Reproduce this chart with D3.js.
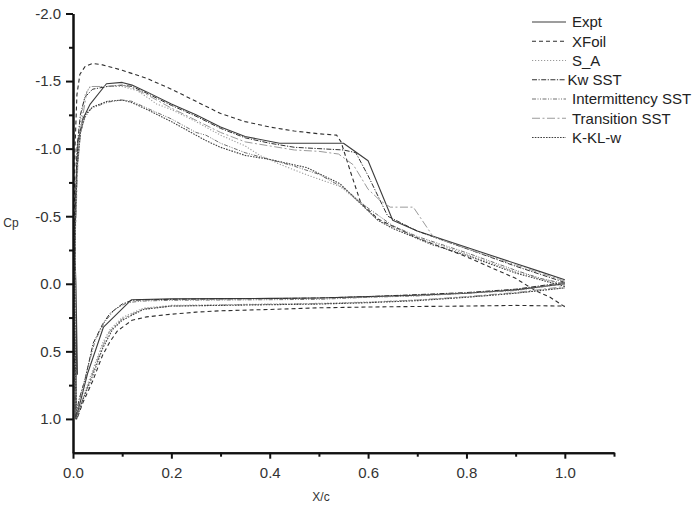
<!DOCTYPE html>
<html>
<head>
<meta charset="utf-8">
<script src="https://cdn.jsdelivr.net/npm/d3@7"></script>
<style>
  body { margin: 0; background: #fff; }
  svg { display: block; font-family: "Liberation Sans", Arial, sans-serif; }
</style>
</head>
<body>
<svg id="chart_svg" width="700" height="509"></svg>
<script>
// x/c and Cp pairs, upper surface from trailing edge to leading edge, then lower surface back to TE
var expt = [[1.0,-0.03],[0.95,-0.09],[0.9,-0.15],[0.8,-0.27],[0.7,-0.39],[0.65,-0.47],[0.6,-0.91],[0.55,-1.04],[0.5,-1.04],
  [0.42,-1.04],[0.35,-1.09],[0.3,-1.16],[0.25,-1.25],[0.2,-1.33],[0.15,-1.42],[0.12,-1.47],[0.1,-1.49],[0.068,-1.48],
  [0.035,-1.33],[0.02,-1.22],[0.01,-1.05],[0.006,-0.7],[0.004,-0.2],[0.006,0.0],[0.009,0.67],[0.007,0.25],[0.006,1.0],
  [0.03,0.66],[0.062,0.32],[0.119,0.118],[0.2,0.112],[0.3,0.11],[0.4,0.108],[0.5,0.105],[0.6,0.095],[0.7,0.085],
  [0.8,0.07],[0.9,0.045],[1.0,0.0]];

var xfoil = [[1.0,0.17],[0.97,0.1],[0.94,0.05],[0.9,-0.04],[0.85,-0.12],[0.8,-0.2],[0.7,-0.34],[0.62,-0.48],[0.585,-0.6],
  [0.565,-0.82],[0.545,-1.05],[0.536,-1.1],[0.5,-1.11],[0.45,-1.13],[0.4,-1.16],[0.35,-1.2],[0.3,-1.26],[0.25,-1.35],
  [0.2,-1.44],[0.15,-1.52],[0.1,-1.58],[0.06,-1.62],[0.04,-1.63],[0.025,-1.61],[0.014,-1.55],[0.008,-1.4],[0.004,-1.0],
  [0.002,-0.3],[0.003,0.5],[0.008,1.0],[0.02,0.88],[0.04,0.72],[0.06,0.53],[0.075,0.43],[0.09,0.35],[0.12,0.27],
  [0.15,0.245],[0.2,0.225],[0.25,0.21],[0.3,0.2],[0.4,0.19],[0.5,0.178],[0.6,0.172],[0.7,0.168],[0.8,0.165],
  [0.9,0.16],[1.0,0.165]];

var sa = [[1.0,0.01],[0.95,-0.04],[0.9,-0.09],[0.8,-0.22],[0.7,-0.34],[0.62,-0.47],[0.584,-0.6],[0.543,-0.72],[0.48,-0.8],
  [0.43,-0.87],[0.38,-0.95],[0.35,-1.02],[0.3,-1.1],[0.25,-1.2],[0.2,-1.29],[0.17,-1.33],[0.155,-1.37],[0.13,-1.43],
  [0.1,-1.46],[0.07,-1.46],[0.035,-1.46],[0.025,-1.4],[0.015,-1.2],[0.008,-0.9],[0.004,-0.3],[0.004,0.4],[0.008,1.0],
  [0.02,0.84],[0.04,0.64],[0.06,0.44],[0.075,0.34],[0.1,0.25],[0.143,0.18],[0.2,0.16],[0.3,0.155],[0.4,0.15],
  [0.5,0.145],[0.6,0.135],[0.7,0.12],[0.8,0.1],[0.9,0.07],[1.0,0.03]];

var kwSst = [[1.0,-0.01],[0.95,-0.07],[0.9,-0.13],[0.8,-0.26],[0.7,-0.39],[0.64,-0.5],[0.6,-0.8],[0.575,-0.97],[0.55,-0.99],
  [0.5,-1.0],[0.45,-1.01],[0.4,-1.04],[0.35,-1.08],[0.3,-1.15],[0.25,-1.24],[0.2,-1.32],[0.15,-1.41],[0.12,-1.46],
  [0.1,-1.47],[0.07,-1.46],[0.04,-1.44],[0.024,-1.38],[0.015,-1.25],[0.008,-1.0],[0.004,-0.4],[0.003,0.3],[0.005,1.0],
  [0.012,0.86],[0.025,0.7],[0.041,0.44],[0.06,0.3],[0.075,0.22],[0.1,0.15],[0.12,0.122],[0.2,0.115],[0.3,0.112],
  [0.4,0.11],[0.5,0.105],[0.6,0.095],[0.7,0.08],[0.8,0.065],[0.9,0.04],[1.0,-0.01]];

var intermittencySst = [[1.0,0.0],[0.95,-0.04],[0.9,-0.1],[0.8,-0.23],[0.7,-0.35],[0.65,-0.43],[0.6,-0.56],[0.55,-0.71],
  [0.5,-0.81],[0.45,-0.87],[0.4,-0.92],[0.35,-0.97],[0.3,-1.04],[0.27,-1.1],[0.25,-1.12],[0.2,-1.22],[0.15,-1.3],
  [0.12,-1.35],[0.1,-1.36],[0.072,-1.345],[0.038,-1.3],[0.024,-1.23],[0.014,-1.1],[0.008,-0.8],[0.004,-0.3],[0.004,0.4],
  [0.006,1.0],[0.015,0.84],[0.03,0.62],[0.045,0.42],[0.065,0.28],[0.085,0.19],[0.11,0.14],[0.14,0.128],[0.2,0.122],
  [0.3,0.12],[0.4,0.118],[0.5,0.115],[0.6,0.1],[0.7,0.09],[0.8,0.07],[0.9,0.05],[1.0,0.0]];

var transitionSst = [[1.0,-0.02],[0.95,-0.08],[0.9,-0.14],[0.8,-0.26],[0.733,-0.345],[0.692,-0.567],[0.645,-0.567],
  [0.624,-0.617],[0.6,-0.7],[0.57,-0.88],[0.54,-0.96],[0.5,-0.98],[0.45,-0.99],[0.4,-1.02],[0.35,-1.05],[0.3,-1.12],
  [0.25,-1.21],[0.2,-1.3],[0.15,-1.4],[0.12,-1.45],[0.1,-1.47],[0.066,-1.46],[0.035,-1.46],[0.028,-1.42],[0.018,-1.2],
  [0.01,-0.9],[0.005,-0.4],[0.004,0.3],[0.007,1.0],[0.02,0.85],[0.04,0.66],[0.06,0.46],[0.075,0.35],[0.1,0.26],
  [0.143,0.185],[0.2,0.165],[0.3,0.158],[0.4,0.152],[0.5,0.148],[0.6,0.138],[0.7,0.12],[0.8,0.095],[0.9,0.065],[1.0,0.02]];

var kKlW = [[1.0,0.02],[0.95,-0.03],[0.9,-0.08],[0.8,-0.21],[0.73,-0.29],[0.65,-0.41],[0.62,-0.47],[0.577,-0.62],
  [0.543,-0.74],[0.475,-0.86],[0.4,-0.92],[0.35,-0.95],[0.3,-1.01],[0.27,-1.06],[0.25,-1.1],[0.2,-1.2],[0.15,-1.29],
  [0.12,-1.34],[0.1,-1.36],[0.07,-1.35],[0.04,-1.31],[0.025,-1.25],[0.015,-1.12],[0.008,-0.85],[0.004,-0.35],
  [0.004,0.35],[0.007,1.0],[0.02,0.86],[0.04,0.68],[0.06,0.48],[0.08,0.34],[0.1,0.27],[0.143,0.19],[0.2,0.165],
  [0.3,0.16],[0.4,0.155],[0.5,0.15],[0.6,0.14],[0.7,0.125],[0.8,0.1],[0.9,0.07],[1.0,0.03]];

var seriesNames = ["Expt", "XFoil", "S_A", "Kw SST", "Intermittency SST", "Transition SST", "K-KL-w"];
var seriesData = [expt, xfoil, sa, kwSst, intermittencySst, transitionSst, kKlW];

var xTicks = [0, 0.2, 0.4, 0.6, 0.8, 1.0];
var xMinorTicks = [0.1, 0.3, 0.5, 0.7, 0.9, 1.1];
var yTicks = [-2.0, -1.5, -1.0, -0.5, 0.0, 0.5, 1.0];
var yMinorTicks = [-1.75, -1.25, -0.75, -0.25, 0.25, 0.75];

// line looks, one per series
var STYLES = [
  { color: "#3c3c3c", dash: null, width: 1.1 },
  { color: "#2e2e2e", dash: "4,3", width: 1.1 },
  { color: "#9a9a9a", dash: "1.2,1.8", width: 1.1 },
  { color: "#303030", dash: "5,1.5,1.2,1.5", width: 1.0 },
  { color: "#707070", dash: "4,1.5,1,1.5,1,1.5", width: 1.0 },
  { color: "#9a9a9a", dash: "8,2.5,2,2.5", width: 1.0 },
  { color: "#404040", dash: "1.6,1.2", width: 1.1 }
];

window.addEventListener("load", drawChart);

function drawChart() {
  var svg = d3.select("#chart_svg");

  var x = d3.scaleLinear().domain([0, 1.1]).range([73, 614]);
  var y = d3.scaleLinear().domain([-2.0, 1.25]).range([13.5, 452.7]);

  var line = d3.line()
    .x(function (d) { return x(d[0]); })
    .y(function (d) { return y(d[1]); });

  var plot = svg.append("g");
  seriesData.forEach(function (pts, i) {
    var s = STYLES[i];
    plot.append("path")
      .datum(pts)
      .attr("d", line)
      .attr("fill", "none")
      .attr("stroke", s.color)
      .attr("stroke-width", s.width)
      .attr("stroke-dasharray", s.dash)
      .attr("stroke-linejoin", "round");
  });

  var fmt = function (d) { return d.toFixed(1); };

  // y axis, major then minor ticks
  svg.append("g").attr("transform", "translate(73,0)")
    .call(d3.axisLeft(y).tickValues(yTicks).tickFormat(fmt).tickSize(7).tickSizeOuter(0).tickPadding(5));
  svg.append("g").attr("transform", "translate(73,0)")
    .call(d3.axisLeft(y).tickValues(yMinorTicks).tickFormat("").tickSize(4).tickSizeOuter(0));

  svg.append("g").attr("transform", "translate(0,452.7)")
    .call(d3.axisBottom(x).tickValues(xTicks).tickFormat(fmt).tickSize(6).tickSizeOuter(0).tickPadding(9));
  svg.append("g").attr("transform", "translate(0,452.7)")
    .call(d3.axisBottom(x).tickValues(xMinorTicks).tickFormat("").tickSize(4).tickSizeOuter(0));

  svg.selectAll(".domain").attr("stroke", "#111").attr("stroke-width", 2);
  svg.selectAll(".tick line").attr("stroke", "#111").attr("stroke-width", 2);
  svg.selectAll(".tick text")
    .attr("font-size", 15)
    .attr("font-family", "'Liberation Sans', Arial, sans-serif")
    .attr("fill", "#333");

  // axis titles
  svg.append("text").attr("x", 321).attr("y", 501).attr("text-anchor", "middle")
    .attr("font-size", 12).attr("fill", "#333").text("X/c");
  svg.append("text").attr("x", 11).attr("y", 227).attr("text-anchor", "middle")
    .attr("font-size", 12).attr("fill", "#333").text("Cp");

  // legend
  var legend = svg.append("g");
  seriesNames.forEach(function (name, i) {
    var s = STYLES[i];
    var ly = 22 + i * 19.25;
    legend.append("line")
      .attr("x1", 532).attr("x2", 566).attr("y1", ly).attr("y2", ly)
      .attr("stroke", s.color).attr("stroke-width", s.width)
      .attr("stroke-dasharray", s.dash);
    legend.append("text")
      .attr("x", name === "Kw SST" ? 567.5 : 572).attr("y", ly).attr("dy", "0.36em")
      .attr("font-size", 15).attr("fill", "#222").text(name);
  });
}
</script>
</body>
</html>
